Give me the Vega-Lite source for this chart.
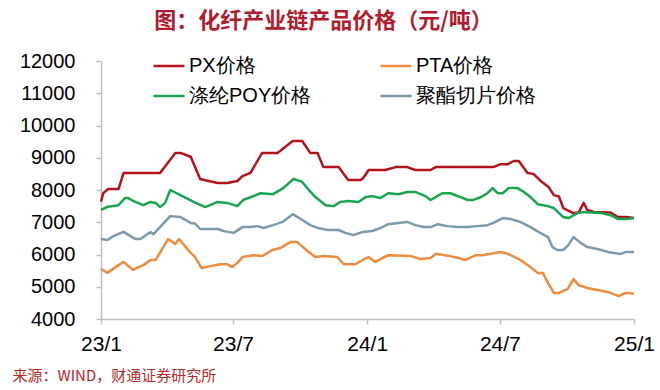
{
  "$schema": "https://vega.github.io/schema/vega-lite/v6.json",
  "width": 533,
  "height": 258,
  "autosize": {"type": "none"},
  "padding": {"left": 101, "top": 61, "right": 26, "bottom": 71},
  "background": "white",
  "title": {
    "text": "图：化纤产业链产品价格（元/吨）",
    "anchor": "middle",
    "frame": "group",
    "dx": -44,
    "offset": 16,
    "font": "Noto Sans CJK SC",
    "fontSize": 22,
    "fontWeight": "bold",
    "color": "#B01C2E"
  },
  "config": {
    "view": {"stroke": null},
    "font": "Liberation Sans"
  },
  "datasets": {
    "prices": [
      {"d": "2023-01-01", "s": "PX价格", "v": 7640},
      {"d": "2023-01-04", "s": "PX价格", "v": 7900},
      {"d": "2023-01-11", "s": "PX价格", "v": 8030},
      {"d": "2023-01-25", "s": "PX价格", "v": 8030},
      {"d": "2023-02-01", "s": "PX价格", "v": 8530},
      {"d": "2023-03-23", "s": "PX价格", "v": 8530},
      {"d": "2023-04-13", "s": "PX价格", "v": 9150},
      {"d": "2023-04-20", "s": "PX价格", "v": 9150},
      {"d": "2023-05-04", "s": "PX价格", "v": 9030},
      {"d": "2023-05-17", "s": "PX价格", "v": 8340},
      {"d": "2023-05-24", "s": "PX价格", "v": 8300},
      {"d": "2023-06-10", "s": "PX价格", "v": 8220},
      {"d": "2023-06-23", "s": "PX价格", "v": 8220},
      {"d": "2023-07-07", "s": "PX价格", "v": 8280},
      {"d": "2023-07-14", "s": "PX价格", "v": 8430},
      {"d": "2023-07-25", "s": "PX价格", "v": 8530},
      {"d": "2023-08-10", "s": "PX价格", "v": 9150},
      {"d": "2023-08-31", "s": "PX价格", "v": 9150},
      {"d": "2023-09-21", "s": "PX价格", "v": 9520},
      {"d": "2023-10-04", "s": "PX价格", "v": 9520},
      {"d": "2023-10-15", "s": "PX价格", "v": 9150},
      {"d": "2023-10-25", "s": "PX价格", "v": 9150},
      {"d": "2023-11-02", "s": "PX价格", "v": 8710},
      {"d": "2023-11-23", "s": "PX价格", "v": 8710},
      {"d": "2023-12-06", "s": "PX价格", "v": 8310},
      {"d": "2023-12-23", "s": "PX价格", "v": 8310},
      {"d": "2023-12-27", "s": "PX价格", "v": 8380},
      {"d": "2024-01-03", "s": "PX价格", "v": 8620},
      {"d": "2024-01-26", "s": "PX价格", "v": 8620},
      {"d": "2024-02-09", "s": "PX价格", "v": 8710},
      {"d": "2024-02-25", "s": "PX价格", "v": 8710},
      {"d": "2024-03-07", "s": "PX价格", "v": 8620},
      {"d": "2024-03-28", "s": "PX价格", "v": 8620},
      {"d": "2024-04-04", "s": "PX价格", "v": 8710},
      {"d": "2024-06-22", "s": "PX价格", "v": 8710},
      {"d": "2024-07-02", "s": "PX价格", "v": 8800},
      {"d": "2024-07-12", "s": "PX价格", "v": 8800},
      {"d": "2024-07-20", "s": "PX价格", "v": 8900},
      {"d": "2024-07-27", "s": "PX价格", "v": 8900},
      {"d": "2024-08-08", "s": "PX价格", "v": 8530},
      {"d": "2024-08-16", "s": "PX价格", "v": 8500},
      {"d": "2024-08-26", "s": "PX价格", "v": 8280},
      {"d": "2024-09-06", "s": "PX价格", "v": 8090},
      {"d": "2024-09-13", "s": "PX价格", "v": 7840},
      {"d": "2024-09-20", "s": "PX价格", "v": 7800},
      {"d": "2024-09-26", "s": "PX价格", "v": 7440},
      {"d": "2024-10-09", "s": "PX价格", "v": 7290},
      {"d": "2024-10-17", "s": "PX价格", "v": 7300},
      {"d": "2024-10-24", "s": "PX价格", "v": 7600},
      {"d": "2024-10-29", "s": "PX价格", "v": 7380},
      {"d": "2024-11-07", "s": "PX价格", "v": 7320},
      {"d": "2024-11-30", "s": "PX价格", "v": 7300},
      {"d": "2024-12-10", "s": "PX价格", "v": 7160},
      {"d": "2024-12-21", "s": "PX价格", "v": 7160},
      {"d": "2025-01-01", "s": "PX价格", "v": 7130},

      {"d": "2023-01-01", "s": "PTA价格", "v": 5550},
      {"d": "2023-01-10", "s": "PTA价格", "v": 5430},
      {"d": "2023-01-21", "s": "PTA价格", "v": 5610},
      {"d": "2023-02-01", "s": "PTA价格", "v": 5770},
      {"d": "2023-02-14", "s": "PTA价格", "v": 5520},
      {"d": "2023-02-28", "s": "PTA价格", "v": 5670},
      {"d": "2023-03-10", "s": "PTA价格", "v": 5830},
      {"d": "2023-03-17", "s": "PTA价格", "v": 5830},
      {"d": "2023-04-03", "s": "PTA价格", "v": 6480},
      {"d": "2023-04-13", "s": "PTA价格", "v": 6330},
      {"d": "2023-04-18", "s": "PTA价格", "v": 6480},
      {"d": "2023-05-04", "s": "PTA价格", "v": 6050},
      {"d": "2023-05-10", "s": "PTA价格", "v": 5920},
      {"d": "2023-05-19", "s": "PTA价格", "v": 5580},
      {"d": "2023-05-31", "s": "PTA价格", "v": 5640},
      {"d": "2023-06-14", "s": "PTA价格", "v": 5700},
      {"d": "2023-06-23", "s": "PTA价格", "v": 5700},
      {"d": "2023-06-30", "s": "PTA价格", "v": 5610},
      {"d": "2023-07-07", "s": "PTA价格", "v": 5740},
      {"d": "2023-07-14", "s": "PTA价格", "v": 5920},
      {"d": "2023-07-29", "s": "PTA价格", "v": 5980},
      {"d": "2023-08-10", "s": "PTA价格", "v": 5950},
      {"d": "2023-08-24", "s": "PTA价格", "v": 6140},
      {"d": "2023-09-04", "s": "PTA价格", "v": 6200},
      {"d": "2023-09-18", "s": "PTA价格", "v": 6390},
      {"d": "2023-09-27", "s": "PTA价格", "v": 6390},
      {"d": "2023-10-11", "s": "PTA价格", "v": 6110},
      {"d": "2023-10-22", "s": "PTA价格", "v": 5920},
      {"d": "2023-11-02", "s": "PTA价格", "v": 5950},
      {"d": "2023-11-21", "s": "PTA价格", "v": 5920},
      {"d": "2023-11-30", "s": "PTA价格", "v": 5700},
      {"d": "2023-12-16", "s": "PTA价格", "v": 5700},
      {"d": "2023-12-26", "s": "PTA价格", "v": 5830},
      {"d": "2024-01-03", "s": "PTA价格", "v": 5920},
      {"d": "2024-01-12", "s": "PTA价格", "v": 5770},
      {"d": "2024-01-22", "s": "PTA价格", "v": 5890},
      {"d": "2024-01-30", "s": "PTA价格", "v": 5980},
      {"d": "2024-03-01", "s": "PTA价格", "v": 5950},
      {"d": "2024-03-14", "s": "PTA价格", "v": 5860},
      {"d": "2024-03-28", "s": "PTA价格", "v": 5890},
      {"d": "2024-04-04", "s": "PTA价格", "v": 6020},
      {"d": "2024-04-24", "s": "PTA价格", "v": 5950},
      {"d": "2024-05-05", "s": "PTA价格", "v": 5890},
      {"d": "2024-05-15", "s": "PTA价格", "v": 5830},
      {"d": "2024-05-29", "s": "PTA价格", "v": 5980},
      {"d": "2024-06-07", "s": "PTA价格", "v": 5980},
      {"d": "2024-06-18", "s": "PTA价格", "v": 6020},
      {"d": "2024-07-02", "s": "PTA价格", "v": 6080},
      {"d": "2024-07-12", "s": "PTA价格", "v": 6020},
      {"d": "2024-07-29", "s": "PTA价格", "v": 5830},
      {"d": "2024-08-12", "s": "PTA价格", "v": 5610},
      {"d": "2024-08-22", "s": "PTA价格", "v": 5430},
      {"d": "2024-08-29", "s": "PTA价格", "v": 5430},
      {"d": "2024-09-05", "s": "PTA价格", "v": 5120},
      {"d": "2024-09-13", "s": "PTA价格", "v": 4810},
      {"d": "2024-09-20", "s": "PTA价格", "v": 4810},
      {"d": "2024-10-02", "s": "PTA价格", "v": 4930},
      {"d": "2024-10-10", "s": "PTA价格", "v": 5240},
      {"d": "2024-10-17", "s": "PTA价格", "v": 5050},
      {"d": "2024-10-29", "s": "PTA价格", "v": 4960},
      {"d": "2024-11-12", "s": "PTA价格", "v": 4900},
      {"d": "2024-11-26", "s": "PTA价格", "v": 4840},
      {"d": "2024-12-11", "s": "PTA价格", "v": 4710},
      {"d": "2024-12-21", "s": "PTA价格", "v": 4810},
      {"d": "2025-01-01", "s": "PTA价格", "v": 4780},

      {"d": "2023-01-01", "s": "涤纶POY价格", "v": 7380},
      {"d": "2023-01-10", "s": "涤纶POY价格", "v": 7480},
      {"d": "2023-01-25", "s": "涤纶POY价格", "v": 7530},
      {"d": "2023-02-03", "s": "涤纶POY价格", "v": 7750},
      {"d": "2023-02-07", "s": "涤纶POY价格", "v": 7750},
      {"d": "2023-02-17", "s": "涤纶POY价格", "v": 7630},
      {"d": "2023-02-28", "s": "涤纶POY价格", "v": 7530},
      {"d": "2023-03-10", "s": "涤纶POY价格", "v": 7630},
      {"d": "2023-03-17", "s": "涤纶POY价格", "v": 7600},
      {"d": "2023-03-23", "s": "涤纶POY价格", "v": 7470},
      {"d": "2023-03-30", "s": "涤纶POY价格", "v": 7600},
      {"d": "2023-04-06", "s": "涤纶POY价格", "v": 8000},
      {"d": "2023-04-20", "s": "涤纶POY价格", "v": 7840},
      {"d": "2023-05-08", "s": "涤纶POY价格", "v": 7630},
      {"d": "2023-05-24", "s": "涤纶POY价格", "v": 7470},
      {"d": "2023-06-10", "s": "涤纶POY价格", "v": 7630},
      {"d": "2023-06-23", "s": "涤纶POY价格", "v": 7600},
      {"d": "2023-07-07", "s": "涤纶POY价格", "v": 7500},
      {"d": "2023-07-15", "s": "涤纶POY价格", "v": 7690},
      {"d": "2023-08-08", "s": "涤纶POY价格", "v": 7900},
      {"d": "2023-08-25", "s": "涤纶POY价格", "v": 7870},
      {"d": "2023-09-08", "s": "涤纶POY价格", "v": 8060},
      {"d": "2023-09-22", "s": "涤纶POY价格", "v": 8340},
      {"d": "2023-10-04", "s": "涤纶POY价格", "v": 8250},
      {"d": "2023-10-13", "s": "涤纶POY价格", "v": 8000},
      {"d": "2023-10-22", "s": "涤纶POY价格", "v": 7780},
      {"d": "2023-11-05", "s": "涤纶POY价格", "v": 7530},
      {"d": "2023-11-16", "s": "涤纶POY价格", "v": 7500},
      {"d": "2023-11-25", "s": "涤纶POY价格", "v": 7630},
      {"d": "2023-12-06", "s": "涤纶POY价格", "v": 7660},
      {"d": "2023-12-20", "s": "涤纶POY价格", "v": 7630},
      {"d": "2023-12-30", "s": "涤纶POY价格", "v": 7780},
      {"d": "2024-01-08", "s": "涤纶POY价格", "v": 7810},
      {"d": "2024-01-19", "s": "涤纶POY价格", "v": 7750},
      {"d": "2024-01-30", "s": "涤纶POY价格", "v": 7900},
      {"d": "2024-02-13", "s": "涤纶POY价格", "v": 7870},
      {"d": "2024-02-25", "s": "涤纶POY价格", "v": 7940},
      {"d": "2024-03-07", "s": "涤纶POY价格", "v": 7940},
      {"d": "2024-03-21", "s": "涤纶POY价格", "v": 7810},
      {"d": "2024-03-28", "s": "涤纶POY价格", "v": 7690},
      {"d": "2024-04-04", "s": "涤纶POY价格", "v": 7780},
      {"d": "2024-04-13", "s": "涤纶POY价格", "v": 7900},
      {"d": "2024-04-24", "s": "涤纶POY价格", "v": 7900},
      {"d": "2024-05-08", "s": "涤纶POY价格", "v": 7780},
      {"d": "2024-05-18", "s": "涤纶POY价格", "v": 7690},
      {"d": "2024-05-25", "s": "涤纶POY价格", "v": 7690},
      {"d": "2024-06-05", "s": "涤纶POY价格", "v": 7780},
      {"d": "2024-06-14", "s": "涤纶POY价格", "v": 7900},
      {"d": "2024-06-21", "s": "涤纶POY价格", "v": 8060},
      {"d": "2024-06-28", "s": "涤纶POY价格", "v": 7900},
      {"d": "2024-07-05", "s": "涤纶POY价格", "v": 7900},
      {"d": "2024-07-13", "s": "涤纶POY价格", "v": 8060},
      {"d": "2024-07-25", "s": "涤纶POY价格", "v": 8060},
      {"d": "2024-08-03", "s": "涤纶POY价格", "v": 7940},
      {"d": "2024-08-12", "s": "涤纶POY价格", "v": 7780},
      {"d": "2024-08-22", "s": "涤纶POY价格", "v": 7560},
      {"d": "2024-09-05", "s": "涤纶POY价格", "v": 7500},
      {"d": "2024-09-13", "s": "涤纶POY价格", "v": 7440},
      {"d": "2024-09-26", "s": "涤纶POY价格", "v": 7160},
      {"d": "2024-10-03", "s": "涤纶POY价格", "v": 7130},
      {"d": "2024-10-16", "s": "涤纶POY价格", "v": 7290},
      {"d": "2024-10-24", "s": "涤纶POY价格", "v": 7320},
      {"d": "2024-11-16", "s": "涤纶POY价格", "v": 7290},
      {"d": "2024-11-30", "s": "涤纶POY价格", "v": 7220},
      {"d": "2024-12-10", "s": "涤纶POY价格", "v": 7100},
      {"d": "2024-12-21", "s": "涤纶POY价格", "v": 7100},
      {"d": "2025-01-01", "s": "涤纶POY价格", "v": 7130},

      {"d": "2023-01-01", "s": "聚酯切片价格", "v": 6480},
      {"d": "2023-01-10", "s": "聚酯切片价格", "v": 6450},
      {"d": "2023-01-18", "s": "聚酯切片价格", "v": 6570},
      {"d": "2023-02-01", "s": "聚酯切片价格", "v": 6700},
      {"d": "2023-02-06", "s": "聚酯切片价格", "v": 6630},
      {"d": "2023-02-17", "s": "聚酯切片价格", "v": 6480},
      {"d": "2023-02-24", "s": "聚酯切片价格", "v": 6480},
      {"d": "2023-03-10", "s": "聚酯切片价格", "v": 6700},
      {"d": "2023-03-14", "s": "聚酯切片价格", "v": 6630},
      {"d": "2023-03-23", "s": "聚酯切片价格", "v": 6850},
      {"d": "2023-04-06", "s": "聚酯切片价格", "v": 7190},
      {"d": "2023-04-20", "s": "聚酯切片价格", "v": 7160},
      {"d": "2023-05-04", "s": "聚酯切片价格", "v": 6980},
      {"d": "2023-05-10", "s": "聚酯切片价格", "v": 6960},
      {"d": "2023-05-17", "s": "聚酯切片价格", "v": 6790},
      {"d": "2023-06-10", "s": "聚酯切片价格", "v": 6790},
      {"d": "2023-06-18", "s": "聚酯切片价格", "v": 6730},
      {"d": "2023-07-02", "s": "聚酯切片价格", "v": 6670},
      {"d": "2023-07-14", "s": "聚酯切片价格", "v": 6850},
      {"d": "2023-07-25", "s": "聚酯切片价格", "v": 6850},
      {"d": "2023-08-04", "s": "聚酯切片价格", "v": 6880},
      {"d": "2023-08-12", "s": "聚酯切片价格", "v": 6820},
      {"d": "2023-08-25", "s": "聚酯切片价格", "v": 6910},
      {"d": "2023-09-07", "s": "聚酯切片价格", "v": 7010},
      {"d": "2023-09-21", "s": "聚酯切片价格", "v": 7250},
      {"d": "2023-10-02", "s": "聚酯切片价格", "v": 7100},
      {"d": "2023-10-15", "s": "聚酯切片价格", "v": 6910},
      {"d": "2023-10-26", "s": "聚酯切片价格", "v": 6820},
      {"d": "2023-11-08", "s": "聚酯切片价格", "v": 6760},
      {"d": "2023-11-23", "s": "聚酯切片价格", "v": 6760},
      {"d": "2023-12-02", "s": "聚酯切片价格", "v": 6670},
      {"d": "2023-12-13", "s": "聚酯切片价格", "v": 6600},
      {"d": "2023-12-26", "s": "聚酯切片价格", "v": 6700},
      {"d": "2024-01-08", "s": "聚酯切片价格", "v": 6730},
      {"d": "2024-01-19", "s": "聚酯切片价格", "v": 6820},
      {"d": "2024-01-30", "s": "聚酯切片价格", "v": 6940},
      {"d": "2024-02-13", "s": "聚酯切片价格", "v": 6980},
      {"d": "2024-02-25", "s": "聚酯切片价格", "v": 7010},
      {"d": "2024-03-07", "s": "聚酯切片价格", "v": 6910},
      {"d": "2024-03-19", "s": "聚酯切片价格", "v": 6850},
      {"d": "2024-03-28", "s": "聚酯切片价格", "v": 6850},
      {"d": "2024-04-07", "s": "聚酯切片价格", "v": 6940},
      {"d": "2024-04-20", "s": "聚酯切片价格", "v": 6880},
      {"d": "2024-05-04", "s": "聚酯切片价格", "v": 6850},
      {"d": "2024-05-18", "s": "聚酯切片价格", "v": 6850},
      {"d": "2024-05-31", "s": "聚酯切片价格", "v": 6880},
      {"d": "2024-06-14", "s": "聚酯切片价格", "v": 6910},
      {"d": "2024-06-22", "s": "聚酯切片价格", "v": 6980},
      {"d": "2024-07-05", "s": "聚酯切片价格", "v": 7130},
      {"d": "2024-07-16", "s": "聚酯切片价格", "v": 7100},
      {"d": "2024-07-29", "s": "聚酯切片价格", "v": 7010},
      {"d": "2024-08-12", "s": "聚酯切片价格", "v": 6850},
      {"d": "2024-08-23", "s": "聚酯切片价格", "v": 6700},
      {"d": "2024-09-05", "s": "聚酯切片价格", "v": 6540},
      {"d": "2024-09-11", "s": "聚酯切片价格", "v": 6230},
      {"d": "2024-09-18", "s": "聚酯切片价格", "v": 6140},
      {"d": "2024-09-26", "s": "聚酯切片价格", "v": 6140},
      {"d": "2024-10-03", "s": "聚酯切片价格", "v": 6290},
      {"d": "2024-10-10", "s": "聚酯切片价格", "v": 6540},
      {"d": "2024-10-20", "s": "聚酯切片价格", "v": 6360},
      {"d": "2024-10-29", "s": "聚酯切片价格", "v": 6230},
      {"d": "2024-11-12", "s": "聚酯切片价格", "v": 6170},
      {"d": "2024-11-26", "s": "聚酯切片价格", "v": 6080},
      {"d": "2024-12-11", "s": "聚酯切片价格", "v": 6020},
      {"d": "2024-12-14", "s": "聚酯切片价格", "v": 6020},
      {"d": "2024-12-21", "s": "聚酯切片价格", "v": 6080},
      {"d": "2025-01-01", "s": "聚酯切片价格", "v": 6080}
    ]
  },
  "data": {"name": "prices"},
  "mark": {"type": "line", "strokeWidth": 2.5, "strokeJoin": "round"},
  "encoding": {
    "x": {
      "field": "d",
      "type": "temporal",
      "scale": {
        "type": "utc",
        "domain": [
          {"year": 2023, "month": 1, "date": 1, "utc": true},
          {"year": 2025, "month": 1, "date": 1, "utc": true}
        ]
      },
      "axis": {
        "values": [
          {"year": 2023, "month": 1, "date": 1, "utc": true},
          {"year": 2023, "month": 7, "date": 1, "utc": true},
          {"year": 2024, "month": 1, "date": 1, "utc": true},
          {"year": 2024, "month": 7, "date": 1, "utc": true},
          {"year": 2025, "month": 1, "date": 1, "utc": true}
        ],
        "labelExpr": "utcFormat(datum.value, '%y/%-m')",
        "grid": false,
        "domainColor": "#BFBFBF",
        "domainWidth": 1.5,
        "tickColor": "#BFBFBF",
        "tickWidth": 1.5,
        "tickSize": 5,
        "labelFont": "Liberation Sans",
        "labelFontSize": 21,
        "labelColor": "#000000",
        "labelPadding": 9,
        "labelOverlap": false,
        "labelFlush": false,
        "title": "来源：WIND，财通证券研究所",
        "titleFont": "Noto Sans CJK SC",
        "titleFontSize": 15,
        "titleFontWeight": "normal",
        "titleColor": "#B22A2A",
        "titleX": -89,
        "titleY": 56,
        "titleAlign": "left",
        "titleBaseline": "middle",
        "titleAnchor": "start"
      }
    },
    "y": {
      "field": "v",
      "type": "quantitative",
      "scale": {"domain": [4000, 12000], "zero": false, "nice": false},
      "axis": {
        "values": [4000, 5000, 6000, 7000, 8000, 9000, 10000, 11000, 12000],
        "format": "d",
        "grid": false,
        "domainColor": "#BFBFBF",
        "domainWidth": 1.5,
        "tickColor": "#BFBFBF",
        "tickWidth": 1.5,
        "tickSize": 5,
        "labelFont": "Liberation Sans",
        "labelFontSize": 20,
        "labelColor": "#000000",
        "labelPadding": 21,
        "labelFlush": false,
        "title": null
      }
    },
    "color": {
      "field": "s",
      "type": "nominal",
      "scale": {
        "domain": ["PX价格", "PTA价格", "涤纶POY价格", "聚酯切片价格"],
        "range": ["#B2141C", "#ED8B3F", "#17A550", "#7E9AAA"]
      },
      "legend": {
        "orient": "none",
        "legendX": 51,
        "legendY": -12,
        "columns": 2,
        "direction": "horizontal",
        "title": null,
        "padding": 0,
        "symbolType": "stroke",
        "symbolSize": 961,
        "symbolStrokeWidth": 2.5,
        "labelFont": "Liberation Sans",
        "labelFontSize": 20,
        "labelColor": "#000000",
        "labelOffset": 3,
        "labelLimit": 300,
        "columnPadding": 63,
        "rowPadding": 3
      }
    }
  }
}
